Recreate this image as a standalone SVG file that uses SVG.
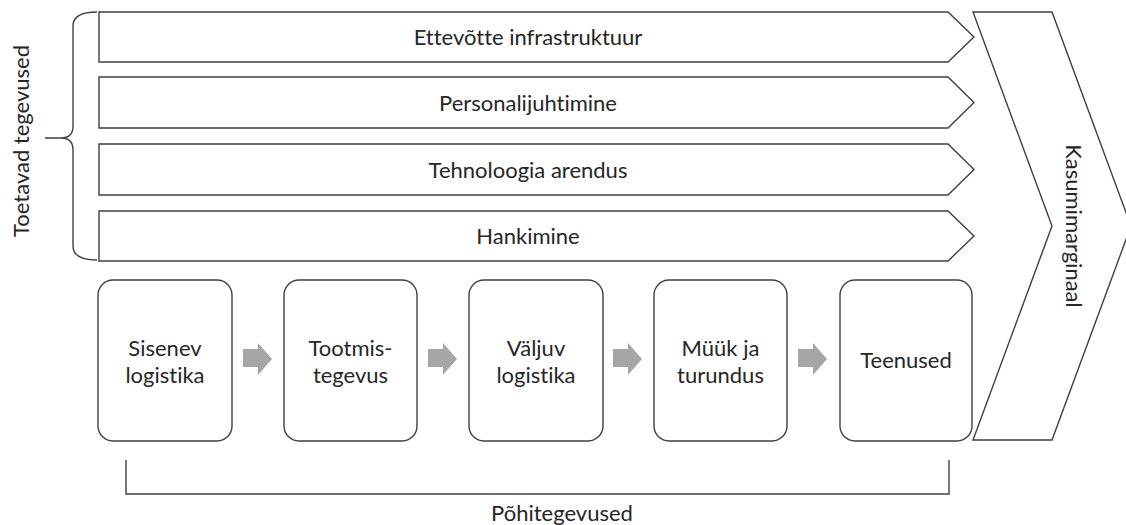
<svg xmlns="http://www.w3.org/2000/svg" width="1126" height="525" viewBox="0 0 1126 525">
<style>
.ln{fill:#fff;stroke:#404040;stroke-width:1.4;stroke-linejoin:miter}
.br{fill:none;stroke:#404040;stroke-width:1.4}
.t{font-family:Lato,"Open Sans",sans-serif;font-size:22px;fill:#262626;text-anchor:middle;font-variant-ligatures:none;font-feature-settings:"liga" 0,"clig" 0}
.ar{fill:#a6a6a6}
</style>
<rect width="1126" height="525" fill="#fff"/>
<g id="margin">
<polygon class="ln" points="973,12 1052,12 1131,226 1052,440 973,440 1052,226"/>
<text class="t" transform="translate(1066,226) rotate(90)">Kasumimarginaal</text>
</g>
<g id="bar1"><polygon class="ln" points="99,12 948,12 974,37 948,62 99,62"/><text class="t" x="528" y="45">Ettevõtte infrastruktuur</text></g>
<g id="bar2"><polygon class="ln" points="99,77 948,77 974,102.5 948,128 99,128"/><text class="t" x="528" y="110.5">Personalijuhtimine</text></g>
<g id="bar3"><polygon class="ln" points="99,144 948,144 974,169.5 948,195 99,195"/><text class="t" x="528" y="177.5">Tehnoloogia arendus</text></g>
<g id="bar4"><polygon class="ln" points="99,211 948,211 974,236 948,261 99,261"/><text class="t" x="528" y="244">Hankimine</text></g>
<g id="support">
<path class="br" d="M97,12 Q73,12 73,26 L73,126 Q73,138 61,138 L45,138 M61,138 Q73,138 73,150 L73,246 Q73,260 97,260"/>
<text class="t" transform="translate(29,141) rotate(-90)">Toetavad tegevused</text>
</g>
<g id="box1"><rect class="ln" x="98" y="280" width="134" height="161" rx="15"/><text class="t" x="165" y="356">Sisenev</text><text class="t" x="165" y="383">logistika</text></g>
<g id="box2"><rect class="ln" x="284" y="280" width="133" height="161" rx="15"/><text class="t" x="350.5" y="356">Tootmis-</text><text class="t" x="350.5" y="383">tegevus</text></g>
<g id="box3"><rect class="ln" x="469" y="280" width="134" height="161" rx="15"/><text class="t" x="536" y="356">Väljuv</text><text class="t" x="536" y="383">logistika</text></g>
<g id="box4"><rect class="ln" x="654" y="280" width="133" height="161" rx="15"/><text class="t" x="720.5" y="356">Müük ja</text><text class="t" x="720.5" y="383">turundus</text></g>
<g id="box5"><rect class="ln" x="840" y="280" width="132" height="161" rx="15"/><text class="t" x="906" y="368">Teenused</text></g>
<g id="connectors">
<polygon class="ar" points="243,349 258,349 258,343 272,359 258,375 258,367 243,367"/>
<polygon class="ar" points="428,349 443,349 443,343 457,359 443,375 443,367 428,367"/>
<polygon class="ar" points="613,349 628,349 628,343 642,359 628,375 628,367 613,367"/>
<polygon class="ar" points="798,349 813,349 813,343 827,359 813,375 813,367 798,367"/>
</g>
<g id="primary">
<path class="br" d="M126,460 L126,494 L949,494 L949,460"/>
<text class="t" x="562" y="521">Põhitegevused</text>
</g>
</svg>
